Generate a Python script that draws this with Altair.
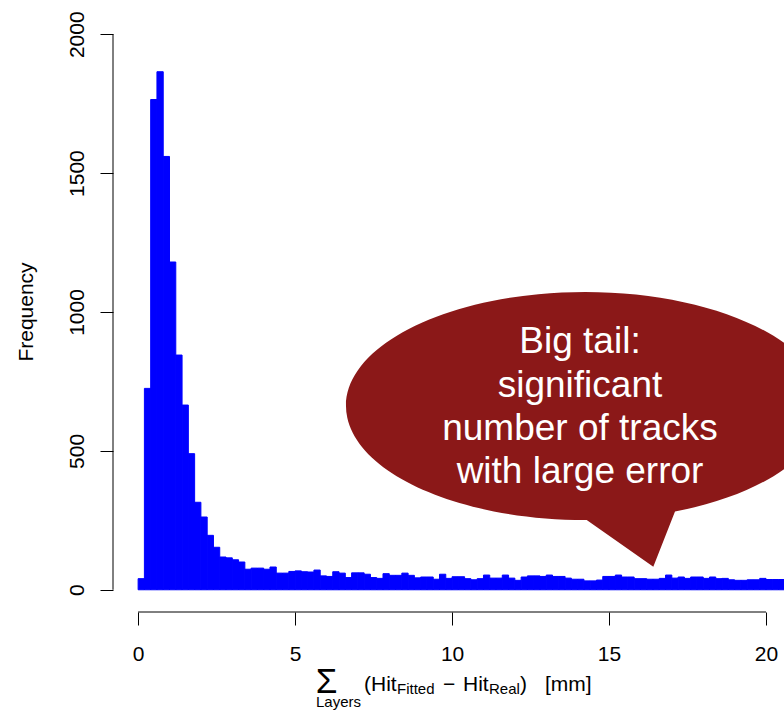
import altair as alt
import pandas as pd

# Histogram of the summed hit residuals, 0.2 mm bins starting at 0
BIN_WIDTH = 0.2
counts = [
    40, 725, 1765, 1865, 1560, 1180, 845, 665, 490, 315,
    262, 196, 153, 118, 115, 108, 100,
    74, 78, 78, 74, 82, 60, 60, 66, 68, 65,
    64, 71, 50, 48, 65, 60, 44, 61, 61, 56,
    44, 41, 58, 52, 52, 60, 52, 43, 46, 46,
    38, 56, 41, 47, 47, 40, 36, 40, 53, 42,
    42, 53, 42, 34,
    46, 50, 50, 48, 53, 48, 48, 42, 38, 38,
    32, 32, 35, 48, 48, 53, 46, 46, 40, 40,
    38, 38, 41, 53, 42, 46, 41, 46, 46, 41,
    46, 40, 41, 36, 34, 34, 36, 36, 41, 37,
    37, 37,
]
x_ticks = [0, 5, 10, 15, 20]
y_ticks = [0, 500, 1000, 1500, 2000]
bubble_lines = ["Big tail:", "significant", "number of tracks", "with large error"]

FONT = "Liberation Sans"
W, H = 671, 600
X_DOMAIN = [-0.8, 20.573]
Y_DOMAIN = [-80, 2080]
BUBBLE_RED = "#8B1818"

hist = pd.DataFrame({
    "start": [i * BIN_WIDTH for i in range(len(counts))],
    "count": counts,
})
hist["end"] = hist["start"] + BIN_WIDTH

x_scale = alt.Scale(domain=X_DOMAIN, nice=False, zero=False)
y_scale = alt.Scale(domain=Y_DOMAIN, nice=False, zero=False)

axis_common = dict(
    domain=False, grid=False, tickSize=13, tickColor="black", tickWidth=1,
    labelFont=FONT, labelFontSize=21, labelColor="black", labelFlush=False,
    labelOverlap=False, title=None, format="d",
)

bars = alt.Chart(hist).mark_rect(
    color="#0000FF", stroke="#0000FF", strokeWidth=1, clip=True
).encode(
    x=alt.X("start:Q", scale=x_scale,
            axis=alt.Axis(values=x_ticks, labelPadding=18, labelBaseline="top",
                          labelAlign="center", **axis_common)),
    x2="end:Q",
    y=alt.Y("count:Q", scale=y_scale,
            axis=alt.Axis(values=y_ticks, labelAngle=270, labelAlign="center",
                          labelBaseline="alphabetic", labelPadding=17, **axis_common)),
    y2=alt.datum(0),
)

one = pd.DataFrame({"k": [0]})

# Axis lines that only span the tick range
x_line = alt.Chart(one).mark_rule(color="black", strokeWidth=1).encode(
    x=alt.datum(x_ticks[0]), x2=alt.datum(x_ticks[-1]), y=alt.value(H)
)
y_line = alt.Chart(one).mark_rule(color="black", strokeWidth=1).encode(
    y=alt.datum(y_ticks[0]), y2=alt.datum(y_ticks[-1]), x=alt.value(0)
)


def label(text, x, y, size, angle=0, align="left", color="black"):
    props = dict(text=text, font=FONT, fontSize=size, align=align,
                 baseline="alphabetic", color=color)
    if angle:
        props["angle"] = angle
    return alt.Chart(one).mark_text(**props).encode(x=alt.value(x), y=alt.value(y))


y_title = label("Frequency", -80, 300, 21, angle=270, align="center")

x_title = [
    label("\u03a3", 202.7, 681, 35),
    label("Layers", 203, 695, 15),
    label("(Hit", 251, 679, 21),
    label("Fitted", 284, 682, 15),
    label("\u2212", 330, 679, 21),
    label("Hit", 350, 679, 21),
    label("Real", 376, 682, 15),
    label(")", 407, 679, 21),
    label("[mm]", 432, 679, 21),
]

# Speech bubble: ellipse with a tail, drawn as one custom symbol path
# (unit = horizontal radius of the ellipse)
BUBBLE_RX = 239
bubble_path = (
    "M 0.3766 0.4419 A 1 0.477 0 1 0 0.0071 0.477 "
    "L 0.2858 0.6724 Z"
)
bubble = alt.Chart(one).mark_point(
    shape=bubble_path, size=(2 * BUBBLE_RX) ** 2, filled=True,
    color=BUBBLE_RED, opacity=1, strokeWidth=0,
).encode(x=alt.value(472), y=alt.value(394))

bubble_text = alt.Chart(one).mark_text(
    text="\n".join(bubble_lines), lineBreak="\n", lineHeight=43.3,
    font=FONT, fontSize=37, color="white", align="center", baseline="alphabetic",
).encode(x=alt.value(467), y=alt.value(341.3))

chart = alt.layer(
    bars, x_line, y_line, y_title, *x_title, bubble, bubble_text
).properties(
    width=W, height=H,
    padding={"left": 113, "top": 12, "right": 0, "bottom": 98},
    autosize=alt.AutoSizeParams(type="none"),
    background="white",
).configure_view(stroke=None)

chart.save("out.html", embed_options={"renderer": "svg", "actions": False})
